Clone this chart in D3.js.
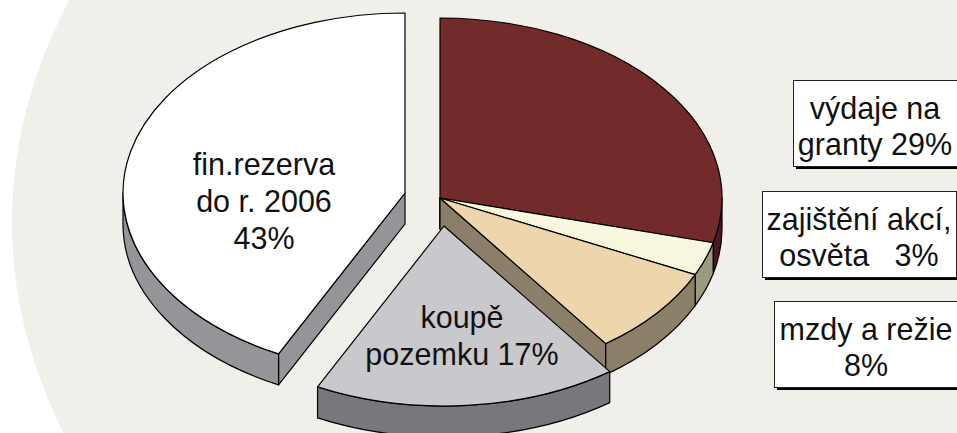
<!DOCTYPE html>
<html>
<head>
<meta charset="utf-8">
<script src="https://cdn.jsdelivr.net/npm/d3@7"></script>
<style>
    html, body { margin: 0; padding: 0; background: #fff; }
    svg { display: block; }
    text { font-family: "Liberation Sans", Arial, sans-serif; fill: #111; }
</style>
</head>
<body>
<div class="chart"></div>
<script>
const categories = ["výdaje na granty", "zajištění akcí, osvěta", "mzdy a režie", "koupě pozemku", "fin.rezerva do r. 2006"];
const shares = [29, 3, 8, 17.4, 42.6];
const topColors = ["#722a2a", "#f6f7dc", "#edd5ac", "#c8c8cd", "#ffffff"];
const sideColors = ["#4a1a22", "#9a9a80", "#8c7f69", "#77787b", "#939598"];
const sliceLabels = [[], [], [], ["koupě", "pozemku 17%"], ["fin.rezerva", "do r. 2006", "43%"]];
const boxLabels = [["výdaje na", "granty 29%"], ["zajištění akcí,", "osvěta   3%"], ["mzdy a režie", "8%"]];

const svgWidth = 957;
const svgHeight = 433;
const rx = 282;
const ry = 180;
const depth = 31;
const fontSize = 30.5;

// where each slice sits after being pulled out of the pie
const sliceCenters = [[440, 198], [440, 198], [440, 198], [444, 226], [405, 193]];
const labelCenters = [null, null, null, 462, 264];
const labelTops = [0, 0, 0, 328, 175];
const boxes = [
    {x: 793, y: 80, w: 170, labelX: 875},
    {x: 762, y: 191, w: 194, labelX: 859},
    {x: 774, y: 301, w: 190, labelX: 866}
];
const boxHeight = 86;

const svg = d3.select(".chart").append("svg")
    .attr("width", svgWidth)
    .attr("height", svgHeight);

svg.append("ellipse")
    .attr("cx", 1012)
    .attr("cy", 222)
    .attr("rx", 1000)
    .attr("ry", 665)
    .style("fill", "#f0efea");

const pie = d3.pie().sort(null).value(d => d);
const slices = pie(shares);

const arc = d3.arc().innerRadius(0).outerRadius(rx);

const point = (c, a, down) => [c[0] + rx * Math.sin(a), c[1] - ry * Math.cos(a) + (down || 0)];

function wallPath(c, a0, a1) {
    const p0 = point(c, a0);
    const p1 = point(c, a1);
    const p2 = point(c, a1, depth);
    const p3 = point(c, a0, depth);
    return `M${p0}A${rx},${ry} 0 0 1 ${p1}L${p2}A${rx},${ry} 0 0 0 ${p3}Z`;
}

function radialWall(c, a) {
    const p = point(c, a);
    return `M${c}L${p}L${p[0]},${p[1] + depth}L${c[0]},${c[1] + depth}Z`;
}

// maroon, cream and tan stay behind, the pulled out slices go on top
slices.forEach((s, i) => {
    const c = sliceCenters[i];
    const g = svg.append("g");
    const lo = Math.max(s.startAngle, Math.PI / 2);
    const hi = Math.min(s.endAngle, Math.PI * 1.5);

    const walls = [];
    if (Math.sin(s.startAngle) < -0.01) walls.push(radialWall(c, s.startAngle));
    if (Math.sin(s.endAngle) > 0.01) walls.push(radialWall(c, s.endAngle));
    if (hi > lo) walls.push(wallPath(c, lo, hi));

    g.selectAll("path.wall")
        .data(walls)
        .enter()
        .append("path")
        .attr("class", "wall")
        .attr("d", d => d)
        .style("fill", sideColors[i])
        .style("stroke", "#000")
        .style("stroke-width", 1.2)
        .style("stroke-linejoin", "round");

    g.append("path")
        .attr("d", arc(s))
        .attr("transform", `translate(${c}) scale(1, ${ry / rx})`)
        .attr("vector-effect", "non-scaling-stroke")
        .style("fill", topColors[i])
        .style("stroke", "#000")
        .style("stroke-width", 1.2)
        .style("stroke-linejoin", "round");
});

sliceLabels.forEach((lines, i) => {
    lines.forEach((line, j) => {
        svg.append("text")
            .attr("x", labelCenters[i])
            .attr("y", labelTops[i] + j * 37)
            .attr("text-anchor", "middle")
            .style("font-size", `${fontSize}px`)
            .text(line);
    });
});

boxes.forEach((b, i) => {
    svg.append("rect")
        .attr("x", b.x + 3)
        .attr("y", b.y + 3)
        .attr("width", b.w)
        .attr("height", boxHeight)
        .style("fill", "#000");
    svg.append("rect")
        .attr("x", b.x + 0.5)
        .attr("y", b.y + 0.5)
        .attr("width", b.w)
        .attr("height", boxHeight)
        .style("fill", "#fff")
        .style("stroke", "#222")
        .style("stroke-width", 1);
    boxLabels[i].forEach((line, j) => {
        svg.append("text")
            .attr("x", b.labelX)
            .attr("y", b.y + 38.5 + j * 36.5)
            .attr("text-anchor", "middle")
            .style("font-size", `${fontSize}px`)
            .style("white-space", "pre")
            .text(line);
    });
});
</script>
</body>
</html>
